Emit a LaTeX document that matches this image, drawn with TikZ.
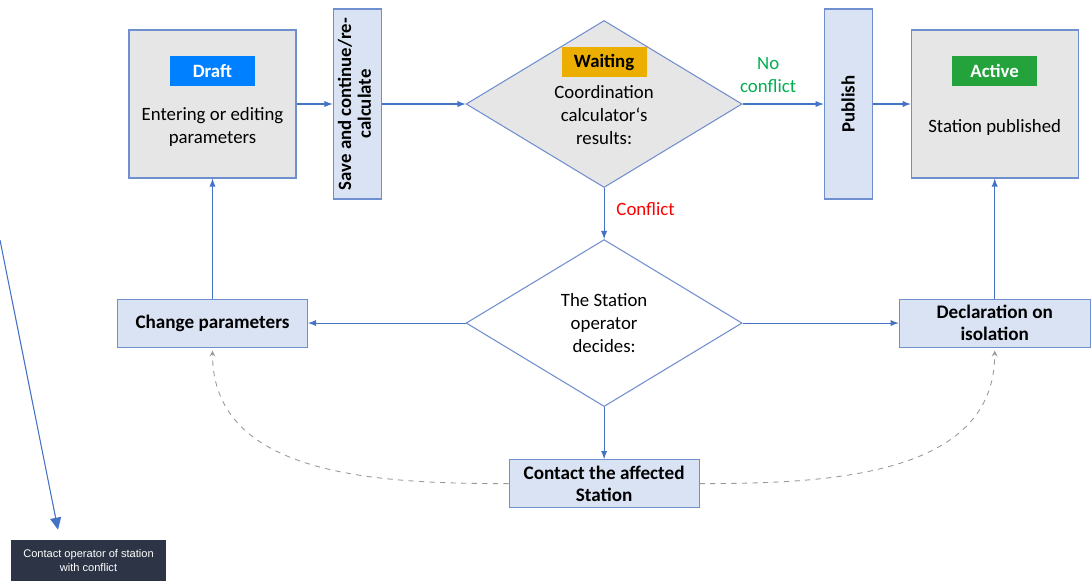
\documentclass[tikz,border=0pt]{standalone}
\usepackage{fontspec}
\setmainfont{Carlito}
\newfontfamily\uifont{Liberation Sans}
\usetikzlibrary{arrows,arrows.meta,positioning,shapes.geometric}
\definecolor{edgeblue}{RGB}{68,114,196}
\definecolor{boxline}{RGB}{111,143,207}
\definecolor{boxblue}{RGB}{218,227,243}
\definecolor{boxgray}{RGB}{231,230,230}
\definecolor{draftblue}{RGB}{0,128,255}
\definecolor{waitgold}{RGB}{236,174,0}
\definecolor{activegreen}{RGB}{36,163,60}
\definecolor{okgreen}{RGB}{0,176,80}
\definecolor{uidark}{RGB}{44,52,69}
\tikzset{state/.style={rectangle,draw=boxline,fill=boxgray,line width=0.6pt,minimum width=3.34cm,minimum height=2.96cm}}
\tikzset{action/.style={rectangle,draw=boxline,fill=boxblue,line width=0.6pt,minimum width=3.8cm,minimum height=0.96cm,align=center,font=\fontsize{10.9}{12.5}\selectfont\bfseries}}
\tikzset{sidebar/.style={rectangle,draw=boxline,fill=boxblue,line width=0.6pt,minimum width=0.96cm,minimum height=3.8cm,inner sep=0pt,font=\fontsize{10.7}{11.3}\selectfont\bfseries}}
\tikzset{decision/.style={diamond,draw=boxline,line width=0.6pt,minimum width=5.52cm,minimum height=3.34cm,inner sep=0pt}}
\tikzset{tag/.style={rectangle,minimum width=1.7cm,minimum height=0.6cm,font=\fontsize{10.7}{13}\selectfont\bfseries}}
\tikzset{plain/.style={align=center,font=\fontsize{10.7}{13}\selectfont}}
\tikzset{flow/.style={-latex,draw=edgeblue,line width=0.6pt}}
\tikzset{loop/.style={-stealth,draw=gray!80,dashed,line width=0.5pt}}

\begin{document}
\begin{tikzpicture}
\useasboundingbox (0,0) rectangle (21.84,-11.62);
% top row
\node (draft) [state] at (4.25,-2.08) {};
\node (save) [sidebar, right =0.72cm of draft] {\rotatebox{90}{\begin{tabular}{@{}c@{}}Save and continue/re-\\calculate\end{tabular}}};
\node (wait) [decision, fill=boxgray, right =1.68cm of save] {};
\node (publish) [sidebar, right =1.62cm of wait] {\rotatebox{90}{Publish}};
\node (active) [state, right =0.76cm of publish] {};
% texts inside the states
\node (drafttag) [tag, fill=draftblue, text=white] at ([yshift=0.66cm]draft.center) {Draft};
\node (drafttext) [plain] at ([yshift=-0.46cm]draft.center) {Entering or editing\\parameters};
\node (waittag) [tag, fill=waitgold] at ([yshift=0.84cm]wait.center) {Waiting};
\node (waittext) [plain] at ([yshift=-0.22cm]wait.center) {Coordination\\calculator‘s\\results:};
\node (activetag) [tag, fill=activegreen, text=white] at ([yshift=0.67cm]active.center) {Active};
\node (activetext) [plain] at ([yshift=-0.46cm]active.center) {Station published};
% lower part
\node (decide) [decision, fill=white, below =1.02cm of wait] {};
\node (decidetext) [plain] at (decide.center) {The Station\\operator\\decides:};
\node (change) [action] at (draft |- decide) {Change parameters};
\node (isolate) [action, minimum width=3.82cm] at (active |- decide) {Declaration on\\isolation};
\node (contact) [action, below =1.04cm of decide] {Contact the affected\\Station};
% connectors
\draw [flow] (draft) -- (save);
\draw [flow] (save) -- (wait);
\draw [flow] (wait) -- node [above=0.1cm, xshift=-0.3cm, plain, text=okgreen] {No\\conflict} (publish);
\draw [flow] (publish) -- (active);
\draw [flow] (wait) -- node [right=0.12cm, yshift=0.08cm, plain, text=red] {Conflict} (decide);
\draw [flow] (decide) -- (change);
\draw [flow] (decide) -- (isolate);
\draw [flow] (decide) -- (contact);
\draw [flow] (change) -- (draft);
\draw [flow] (isolate) -- (active);
\draw [loop] (contact.west) to [out=180,in=-90] ([yshift=-0.06cm]change.south);
\draw [loop] (contact.east) to [out=0,in=-90] ([yshift=-0.06cm]isolate.south);
% screenshot remnant
\node (tooltip) [rectangle, fill=uidark, text=white, minimum width=3.1cm, minimum height=0.82cm, align=center, font=\uifont\fontsize{6.3}{8.4}\selectfont] at (1.77,-11.21) {Contact operator of station\\with conflict};
\coordinate (pointer) at (0,-4.8);
\draw [-{Triangle[length=0.24cm,width=0.22cm]}, draw=edgeblue, fill=edgeblue, line width=0.6pt] (pointer) -- ([yshift=0.2cm]tooltip.north -| 1.16,0);
\end{tikzpicture}
\end{document}
